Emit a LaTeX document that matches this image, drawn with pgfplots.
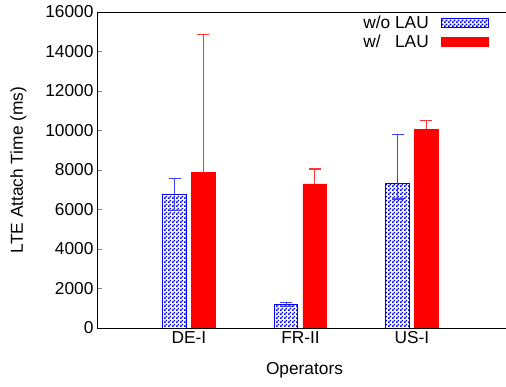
\documentclass[border=0pt]{standalone}
\usepackage{fontspec}
\setmainfont{Liberation Sans}
\usepackage{pgfplots}
\usepackage{pgfplotstable}
\pgfplotsset{compat=1.18}
\usetikzlibrary{patterns}
\pgfdeclarepatternformonly{chk}{\pgfqpoint{0bp}{0bp}}{\pgfqpoint{4bp}{4bp}}{\pgfqpoint{4bp}{4bp}}{%
 \pgfpathrectangle{\pgfqpoint{0bp}{0bp}}{\pgfqpoint{2bp}{2bp}}%
 \pgfpathrectangle{\pgfqpoint{2bp}{2bp}}{\pgfqpoint{2bp}{2bp}}%
 \pgfusepath{fill}}

\pgfplotstableread{
x y
0 6750
1 1180
2 7330
}\wo
\pgfplotstableread{
x y
0 7870
1 7300
2 10060
}\wi

\begin{document}
\begin{tikzpicture}
\begin{axis}[
 scale only axis, width=415bp, height=316bp,
 font=\fontsize{17.3bp}{20bp}\selectfont,
 axis line style={line width=0.8bp},
 xmin=-0.825, xmax=2.897, ymin=0, ymax=16000,
 xtick={0,1,2}, xticklabels={DE-I,FR-II,US-I},
 xtick style={draw=none},
 ytick={0,2000,...,16000},
 tick align=inside, major tick length=5bp,
 ytick style={line width=0.8bp},
 yticklabel style={/pgf/number format/1000 sep={}, /pgf/number format/assume math mode=true},
 scaled y ticks=false,
 xlabel={Operators}, ylabel={LTE Attach Time (ms)},
 xlabel style={yshift=-12bp},
 ylabel style={yshift=12bp},
 legend plot pos=right,
 legend cell align=right,
 legend style={draw=none, fill=none, at={(rel axis cs:1,1)}, anchor=north east,
   xshift=-23bp, yshift=-4bp, row sep=6bp, inner sep=0bp,
   nodes={inner sep=0bp, text height=12bp, text depth=1bp}},
]
\addplot[ybar, bar width=23.5bp, bar shift=-14.25bp,
  draw=blue, pattern=chk, pattern color=blue, line width=1bp,
  legend image code/.code={\path (0bp,0bp); \draw[draw=blue, pattern=chk, pattern color=blue, line width=1bp] (12bp,-4.5bp) rectangle (59bp,4.5bp);}]
  table[x=x, y=y] {\wo};
\addlegendentry{w/o LAU}
\addplot[ybar, bar width=23.5bp, bar shift=14.25bp,
  draw=red, fill=red, line width=0.6bp,
  legend image code/.code={\path (0bp,0bp); \fill[red] (12bp,-4.5bp) rectangle (59bp,4.5bp);}]
  table[x=x, y=y] {\wi};
\addlegendentry{w/\hphantom{o} LAU}
% error bars: vertical lines as thin filled strips
\addplot[forget plot, fill=blue!75!white, draw=none, mark=none]
  coordinates {(-0.1328,5950) (-0.1228,5950) (-0.1228,7550) (-0.1328,7550)} -- cycle;
\addplot[forget plot, fill=blue!75!white, draw=none, mark=none]
  coordinates {(0.8672,1070) (0.8772,1070) (0.8772,1290) (0.8672,1290)} -- cycle;
\addplot[forget plot, fill=blue!75!white, draw=none, mark=none]
  coordinates {(1.8672,6530) (1.8772,6530) (1.8772,9780) (1.8672,9780)} -- cycle;
\addplot[forget plot, fill=red!80!white, draw=none, mark=none]
  coordinates {(0.1228,7870) (0.1328,7870) (0.1328,14850) (0.1228,14850)} -- cycle;
\addplot[forget plot, fill=red!80!white, draw=none, mark=none]
  coordinates {(1.1228,7300) (1.1328,7300) (1.1328,8050) (1.1228,8050)} -- cycle;
\addplot[forget plot, fill=red!80!white, draw=none, mark=none]
  coordinates {(2.1228,10060) (2.1328,10060) (2.1328,10510) (2.1228,10510)} -- cycle;
% error bar caps
\addplot[forget plot, only marks, mark=-, mark size=6bp, blue!75!white, mark options={line width=1.1bp}]
  coordinates {(-0.1278,5950) (-0.1278,7550) (0.8722,1070) (0.8722,1290) (1.8722,6530) (1.8722,9780)};
\addplot[forget plot, only marks, mark=-, mark size=6bp, red!80!white, mark options={line width=1.1bp}]
  coordinates {(0.1278,14850) (1.1278,8050) (2.1278,10510)};
\coordinate (O) at (rel axis cs:0,0);
\coordinate (T) at (rel axis cs:0,1);
\end{axis}
\pgfresetboundingbox
\path[use as bounding box] ([xshift=-97bp,yshift=-59bp]O) rectangle ([xshift=409bp,yshift=12bp]T);
\end{tikzpicture}
\end{document}
